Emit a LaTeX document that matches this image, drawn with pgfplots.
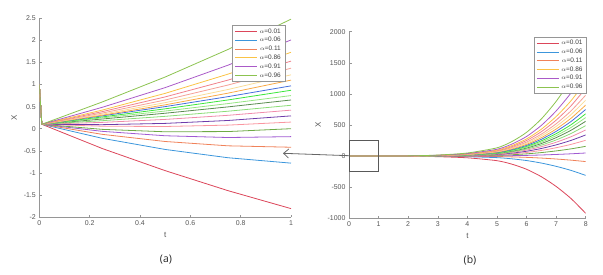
\documentclass[border=0pt]{standalone}
\usepackage{pgfplots}
\pgfplotsset{compat=1.18}
\usepackage{fontspec}
\setmainfont{Liberation Sans}
\newfontfamily\capfont{Open Sans}
\usetikzlibrary{arrows.meta}
\definecolor{c1}{RGB}{220,70,90}
\definecolor{c2}{RGB}{60,150,220}
\definecolor{c3}{RGB}{240,130,90}
\definecolor{c4}{RGB}{160,90,210}
\definecolor{c5}{RGB}{110,170,70}
\definecolor{c6}{RGB}{250,150,160}
\definecolor{c7}{RGB}{110,60,170}
\definecolor{c8}{RGB}{240,140,170}
\definecolor{c9}{RGB}{140,220,120}
\definecolor{c10}{RGB}{90,140,80}
\definecolor{c11}{RGB}{150,230,130}
\definecolor{c12}{RGB}{60,230,60}
\definecolor{c13}{RGB}{70,110,220}
\definecolor{c14}{RGB}{250,170,70}
\definecolor{c15}{RGB}{250,220,150}
\definecolor{c16}{RGB}{245,160,150}
\definecolor{c17}{RGB}{240,130,140}
\definecolor{c18}{RGB}{250,195,70}
\definecolor{c19}{RGB}{170,90,200}
\definecolor{c20}{RGB}{140,195,80}
\definecolor{axgray}{RGB}{150,150,150}
\definecolor{txtgray}{RGB}{85,85,85}
\pgfplotsset{
  mystyle/.style={
    scale only axis,
    anchor=south west,
    axis x line*=bottom, axis y line*=left,
    axis line style={axgray, line width=0.6bp},
    tick style={axgray, line width=0.5bp},
    tick align=inside,
    major tick length=2.5bp,
    ticklabel style={font=\fontsize{7}{8}\selectfont, text=txtgray},
    label style={font=\fontsize{8}{9}\selectfont, text=txtgray},
    /pgf/number format/assume math mode=true,
    /pgf/number format/1000 sep={},
    scaled ticks=false,
    xlabel={t},
    ylabel={X},
    every axis plot/.append style={line width=0.8bp},
    legend cell align=right,
    legend style={draw=axgray, line width=0.5bp, font=\fontsize{6.5}{7.5}\selectfont, text=black!75,
      inner xsep=2bp, inner ysep=1bp, row sep=-1.2bp},
    legend image code/.code={\draw[##1, line width=1bp] (0bp,0bp) -- (22bp,0bp);},
  }
}
\begin{document}
\begin{tikzpicture}[x=1bp,y=1bp]
\path (0,0) rectangle (603,274);
\begin{axis}[mystyle,
  at={(39.3bp,57bp)}, width=251.7bp, height=198.7bp,
  xmin=0, xmax=1, ymin=-2, ymax=2.5,
  xtick={0,0.2,0.4,0.6,0.8,1},
  ytick={-2,-1.5,-1,-0.5,0,0.5,1,1.5,2,2.5},
  legend style={at={(rel axis cs:1,1)}, anchor=north east, xshift=-6bp, yshift=-7bp},
]
\addplot[c1] coordinates {(0,1) (0.01,0.1) (0.25,-0.449) (0.5,-0.95) (0.75,-1.404) (1,-1.81)};
\addlegendentry{$\alpha$=0.01}
\addplot[c2] coordinates {(0,1) (0.01,0.1) (0.25,-0.218) (0.5,-0.47) (0.75,-0.658) (1,-0.78)};
\addlegendentry{$\alpha$=0.06}
\addplot[c3] coordinates {(0,1) (0.01,0.1) (0.25,-0.128) (0.5,-0.29) (0.75,-0.388) (1,-0.42)};
\addlegendentry{$\alpha$=0.11}
\addplot[c4,forget plot] coordinates {(0,1) (0.01,0.1) (0.25,-0.06) (0.5,-0.16) (0.75,-0.20) (1,-0.18)};
\addplot[c5,forget plot] coordinates {(0,1) (0.01,0.1) (0.25,-0.015) (0.5,-0.07) (0.75,-0.065) (1,0.0)};
\addplot[c6,forget plot] coordinates {(0,1) (0.01,0.1) (0.25,0.056) (0.5,0.05) (0.75,0.081) (1,0.15)};
\addplot[c7,forget plot] coordinates {(0,1) (0.01,0.1) (0.25,0.091) (0.5,0.12) (0.75,0.186) (1,0.29)};
\addplot[c8,forget plot] coordinates {(0,1) (0.01,0.1) (0.25,0.143) (0.5,0.21) (0.75,0.303) (1,0.42)};
\addplot[c9,forget plot] coordinates {(0,1) (0.01,0.1) (0.25,0.181) (0.5,0.28) (0.75,0.396) (1,0.53)};
\addplot[c10,forget plot] coordinates {(0,1) (0.01,0.1) (0.25,0.219) (0.5,0.35) (0.75,0.494) (1,0.65)};
\addplot[c11,forget plot] coordinates {(0,1) (0.01,0.1) (0.25,0.244) (0.5,0.40) (0.75,0.569) (1,0.75)};
\addplot[c12,forget plot] coordinates {(0,1) (0.01,0.1) (0.25,0.266) (0.5,0.45) (0.75,0.651) (1,0.87)};
\addplot[c13,forget plot] coordinates {(0,1) (0.01,0.1) (0.25,0.291) (0.5,0.50) (0.75,0.726) (1,0.97)};
\addplot[c14,forget plot] coordinates {(0,1) (0.01,0.1) (0.25,0.305) (0.5,0.54) (0.75,0.805) (1,1.10)};
\addplot[c15,forget plot] coordinates {(0,1) (0.01,0.1) (0.25,0.328) (0.5,0.59) (0.75,0.888) (1,1.22)};
\addplot[c16,forget plot] coordinates {(0,1) (0.01,0.1) (0.25,0.354) (0.5,0.65) (0.75,0.989) (1,1.37)};
\addplot[c17,forget plot] coordinates {(0,1) (0.01,0.1) (0.25,0.386) (0.5,0.72) (0.75,1.101) (1,1.53)};
\addplot[c18] coordinates {(0,1) (0.01,0.1) (0.25,0.421) (0.5,0.80) (0.75,1.236) (1,1.73)};
\addlegendentry{$\alpha$=0.86}
\addplot[c19] coordinates {(0,1) (0.01,0.1) (0.25,0.484) (0.5,0.93) (0.75,1.439) (1,2.01)};
\addlegendentry{$\alpha$=0.91}
\addplot[c20] coordinates {(0,1) (0.01,0.1) (0.25,0.605) (0.5,1.17) (0.75,1.795) (1,2.48)};
\addlegendentry{$\alpha$=0.96}
\end{axis}
\begin{axis}[mystyle,
  at={(349bp,55.7bp)}, width=236.7bp, height=186.6bp,
  xmin=0, xmax=8, ymin=-1000, ymax=2000,
  xtick={0,1,2,3,4,5,6,7,8},
  ytick={-1000,-500,0,500,1000,1500,2000},
  legend style={at={(rel axis cs:1,1)}, anchor=north east, xshift=1bp, yshift=-5.3bp},
  every axis plot/.append style={smooth, tension=0.4},
]
\addplot[c1] coordinates {(0,1) (1,-1.81) (2,-1.8) (3,-9.2) (4,-27.6) (5,-73.6) (5.5,-128.8) (6,-211.6) (6.5,-331.2) (7,-487.6) (7.5,-680.8) (8,-920)};
\addlegendentry{$\alpha$=0.01}
\addplot[c2] coordinates {(0,1) (1,-0.78) (2,-0.6) (3,-3.1) (4,-9.3) (5,-24.8) (5.5,-43.4) (6,-71.3) (6.5,-111.6) (7,-164.3) (7.5,-229.4) (8,-310)};
\addlegendentry{$\alpha$=0.06}
\addplot[c3] coordinates {(0,1) (1,-0.42) (2,-0.2) (3,-0.9) (4,-2.6) (5,-7.0) (5.5,-12.3) (6,-20.2) (6.5,-31.7) (7,-46.6) (7.5,-65.1) (8,-88)};
\addlegendentry{$\alpha$=0.11}
\addplot[c4,forget plot] coordinates {(0,1) (1,-0.18) (2,0.1) (3,0.5) (4,1.5) (5,4) (5.5,7) (6,11.5) (6.5,18) (7,26.5) (7.5,37) (8,50)};
\addplot[c5,forget plot] coordinates {(0,1) (1,0) (2,0.3) (3,1.6) (4,4.7) (5,12.6) (5.5,22.0) (6,36.1) (6.5,56.5) (7,83.2) (7.5,116.2) (8,157)};
\addplot[c6,forget plot] coordinates {(0,1) (1,0.15) (2,0.5) (3,2.5) (4,7.6) (5,20.3) (5.5,35.6) (6,58.4) (6.5,91.4) (7,134.6) (7.5,188.0) (8,254)};
\addplot[c7,forget plot] coordinates {(0,1) (1,0.29) (2,0.7) (3,3.4) (4,10.2) (5,27.2) (5.5,47.6) (6,78.2) (6.5,122.4) (7,180.2) (7.5,251.6) (8,340)};
\addplot[c8,forget plot] coordinates {(0,1) (1,0.42) (2,0.8) (3,4.2) (4,12.6) (5,33.6) (5.5,58.8) (6,96.6) (6.5,151.2) (7,222.6) (7.5,310.8) (8,420)};
\addplot[c9,forget plot] coordinates {(0,1) (1,0.53) (2,1.0) (3,4.9) (4,14.7) (5,39.2) (5.5,68.6) (6,112.7) (6.5,176.4) (7,259.7) (7.5,362.6) (8,490)};
\addplot[c10,forget plot] coordinates {(0,1) (1,0.65) (2,1.1) (3,5.6) (4,16.8) (5,44.8) (5.5,78.4) (6,128.8) (6.5,201.6) (7,296.8) (7.5,414.4) (8,560)};
\addplot[c11,forget plot] coordinates {(0,1) (1,0.75) (2,1.2) (3,6.2) (4,18.6) (5,49.6) (5.5,86.8) (6,142.6) (6.5,223.2) (7,328.6) (7.5,458.8) (8,620)};
\addplot[c12,forget plot] coordinates {(0,1) (1,0.87) (2,1.4) (3,6.8) (4,20.4) (5,54.4) (5.5,95.2) (6,156.4) (6.5,244.8) (7,360.4) (7.5,503.2) (8,680)};
\addplot[c13,forget plot] coordinates {(0,1) (1,0.97) (2,1.5) (3,7.5) (4,22.5) (5,60) (5.5,105) (6,172.5) (6.5,270) (7,397.5) (7.5,555) (8,750)};
\addplot[c14,forget plot] coordinates {(0,1) (1,1.10) (2,1.6) (3,8.2) (4,24.6) (5,65.6) (5.5,114.8) (6,188.6) (6.5,295.2) (7,434.6) (7.5,606.8) (8,820)};
\addplot[c15,forget plot] coordinates {(0,1) (1,1.22) (2,1.8) (3,9) (4,27) (5,72) (5.5,126) (6,207) (6.5,324) (7,477) (7.5,666) (8,900)};
\addplot[c16,forget plot] coordinates {(0,1) (1,1.37) (2,2.0) (3,9.8) (4,29.4) (5,78.4) (5.5,137.2) (6,225.4) (6.5,352.8) (7,519.4) (7.5,725.2) (8,980)};
\addplot[c17,forget plot] coordinates {(0,1) (1,1.53) (2,2.2) (3,10.9) (4,32.7) (5,87.2) (5.5,152.6) (6,250.7) (6.5,392.4) (7,577.7) (7.5,806.6) (8,1090)};
\addplot[c18] coordinates {(0,1) (1,1.73) (2,2.4) (3,12) (4,36) (5,96) (5.5,168) (6,276) (6.5,432) (7,636) (7.5,888) (8,1200)};
\addlegendentry{$\alpha$=0.86}
\addplot[c19] coordinates {(0,1) (1,2.01) (2,2.7) (3,13.7) (4,41.1) (5,109.6) (5.5,191.8) (6,315.1) (6.5,493.2) (7,726.1) (7.5,1013.8) (8,1370)};
\addlegendentry{$\alpha$=0.91}
\addplot[c20] coordinates {(0,1) (1,2.48) (2,3.3) (3,16.6) (4,49.8) (5,132.8) (5.5,232.4) (6,381.8) (6.5,597.6) (7,879.8) (7.5,1228.4) (8,1660)};
\addlegendentry{$\alpha$=0.96}
\draw[black!65, line width=0.8bp] (axis cs:0,-250) rectangle (axis cs:1,250);
\end{axis}
\draw[black!60, line width=0.8bp, -{Straight Barb[length=5bp,width=9bp]}] (349,118.3) -- (283,120.7);
\node[font=\capfont\fontsize{10.5}{12}\selectfont, text=black!85] at (166,14) {(a)};
\node[font=\capfont\fontsize{10.5}{12}\selectfont, text=black!85] at (470,14) {(b)};
\end{tikzpicture}
\end{document}
